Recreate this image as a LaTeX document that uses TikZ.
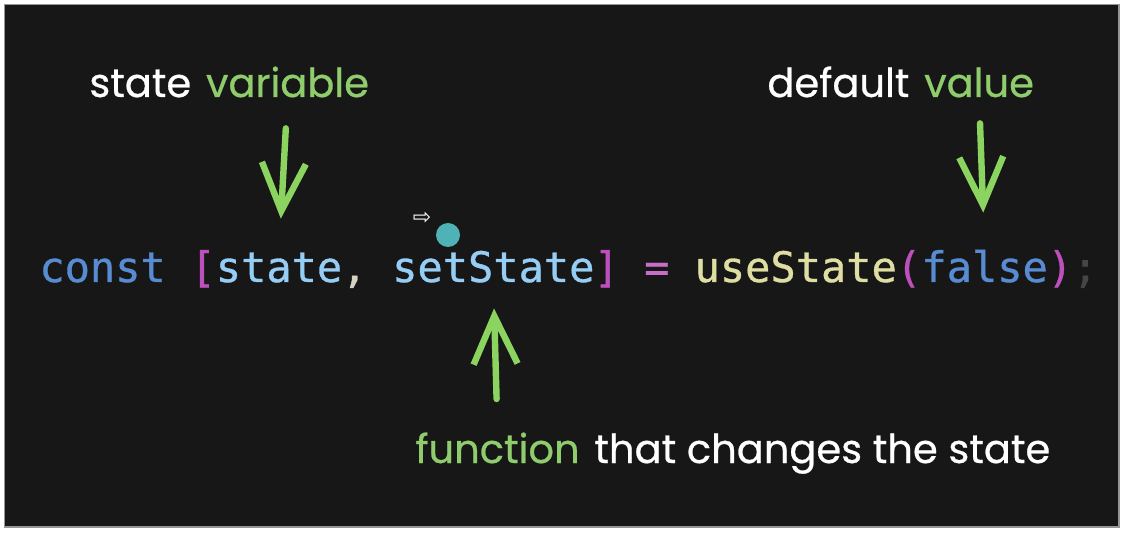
\documentclass[tikz,border=0pt]{standalone}
\usepackage{fontspec}
\setmainfont{Poppins}[FakeBold=0.6]
\newfontfamily\codefont{DejaVu Sans Mono}[FakeBold=0.8]
\newfontfamily\symbfont{DejaVu Sans}
\usetikzlibrary{arrows.meta, positioning, calc}
\definecolor{bgdark}{RGB}{23,23,23}
\definecolor{framegray}{RGB}{150,150,150}
\definecolor{lblgreen}{RGB}{142,204,108}
\definecolor{chalkgreen}{RGB}{140,212,96}
\definecolor{kwblue}{RGB}{88,140,210}
\definecolor{varblue}{RGB}{150,205,245}
\definecolor{brkpink}{RGB}{190,80,190}
\definecolor{eqpink}{RGB}{200,110,200}
\definecolor{punc}{RGB}{215,210,195}
\definecolor{fnyellow}{RGB}{222,222,162}
\definecolor{semigray}{RGB}{70,70,70}
\definecolor{dotteal}{RGB}{78,178,182}
\tikzset{
  >={Straight Barb[length=24pt,width=22pt]},
  % labels above and below the code
  lbl/.style={inner sep=0, font=\fontsize{20}{24}\selectfont, text=white, text height=14.8pt, text depth=0pt},
  lbl green/.style={lbl, text=lblgreen},
  % code tokens
  code/.style={inner sep=0, font=\codefont\fontsize{21}{25}\selectfont, anchor=base west, text height=15pt, text depth=0pt},
  % hand drawn arrows
  chalk/.style={->, line width=3.2pt, draw=chalkgreen, line cap=round, line join=round}
}
\begin{document}
\begin{tikzpicture}[x=0.5pt, y=-0.5pt]
  \useasboundingbox (0,0) rectangle (1130,534);
  \fill[white] (0,0) rectangle (1130,534);
  \draw[framegray, fill=bgdark, line width=0.75pt] (4.5,4.5) rectangle (1119,527);
  % code line
  \coordinate (origin) at (39,282);
  \foreach \col/\clr/\txt/\nm in {0/kwblue/const/kw, 6/brkpink/[/lbr, 7/varblue/state/st,
      12/punc/{,}/cm, 14/varblue/setState/set, 22/brkpink/]/rbr, 24/eqpink/=/eq,
      26/fnyellow/useState/use, 34/brkpink/(/lpar, 35/kwblue/false/fls,
      40/brkpink/)/rpar, 41/semigray/;/semi}
    \node[code, text=\clr] (\nm) at ($(origin)+(\col*25.2,0)$) {\txt};
  % labels
  \node[lbl, anchor=base west] (lblstate) at (89,97) {state};
  \node[lbl green, base right=7pt of lblstate] (lblvar) {variable};
  \node[lbl, anchor=base west] (lbldef) at (767,97) {default};
  \node[lbl green, base right=7pt of lbldef] (lblval) {value};
  \node[lbl green, anchor=base west] (lblfun) at (415,463) {function};
  \node[lbl, base right=7pt of lblfun] (lblrest) {that changes the state};
  % arrows
  \draw[chalk, shorten <=15.5pt, shorten >=16.5pt] (lblvar.south) -- (st.north);
  \draw[chalk, shorten <=13pt, shorten >=19.5pt] (lblval.south) -- (fls.north);
  \draw[chalk, shorten <=17pt, shorten >=13pt] (lblfun.north) -- (set.south);
  % cursor and pointer dot
  \node[font=\symbfont\fontsize{11}{11}\selectfont, text=white, inner sep=0] (cursor) at (422,218) {⇨};
  \node[circle, fill=dotteal, minimum size=12pt, inner sep=0] (dot) at (448,235) {};
\end{tikzpicture}
\end{document}
